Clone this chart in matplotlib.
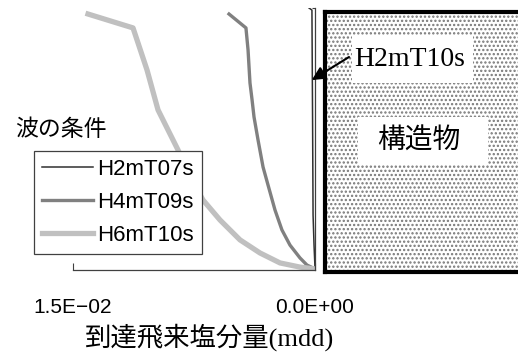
import matplotlib.pyplot as plt
from matplotlib.patches import Rectangle
from matplotlib.ticker import FixedLocator, FuncFormatter

plt.rcParams["font.family"] = ["Liberation Sans", "Noto Sans CJK JP"]
plt.rcParams["hatch.linewidth"] = 1.1

# Airborne salt reaching each height, one series per wave condition
cond_labels = ["H2mT07s", "H4mT09s", "H6mT10s"]

h2_salt = [0.00037, 0.00019, 0.00015, 0.00012, 0.00006, 0.0]
h2_height = [100.0, 99.2, 57.0, 21.0, 9.5, 0.8]

h4_salt = [0.00533, 0.00428, 0.00415, 0.00403, 0.00390, 0.00378, 0.00353,
           0.00322, 0.00291, 0.00248, 0.00205, 0.00155, 0.00093, 0.00050, 0.0]
h4_height = [97.7, 92.4, 84.0, 71.4, 64.9, 58.4, 49.6,
             39.3, 32.4, 22.9, 15.3, 9.5, 4.6, 1.9, 0.4]

h6_salt = [0.01407, 0.01128, 0.01041, 0.00973, 0.00849, 0.00775, 0.00694,
           0.00589, 0.00465, 0.00341, 0.00217, 0.00093, 0.0]
h6_height = [97.7, 92.4, 76.3, 61.1, 45.8, 35.5, 26.7,
             19.1, 11.5, 6.5, 2.7, 1.1, 0.4]

x_ticks = [0.015, 0.0]

line_styles = [
    dict(color="#303030", lw=1.1),
    dict(color="#808080", lw=2.4),
    dict(color="#c0c0c0", lw=3.8),
]

W, H = 518, 358


def fig_box(x0, y0, x1, y1):
    """Pixel box (origin top-left) to a figure-fraction rect."""
    return [x0 / W, 1 - y1 / H, (x1 - x0) / W, (y1 - y0) / H]


fig = plt.figure(figsize=(W / 100, H / 100), dpi=100)
ax = fig.add_axes(fig_box(73, 8, 315, 270))

series = [(h2_salt, h2_height), (h4_salt, h4_height), (h6_salt, h6_height)]
for (xs, ys), label, style in zip(series, cond_labels, line_styles):
    ax.plot(xs, ys, label=label, solid_joinstyle="round", **style)

ax.set_xlim(0.015, 0.0)
ax.set_ylim(0, 100)
ax.xaxis.set_major_locator(FixedLocator(x_ticks))
ax.xaxis.set_major_formatter(
    FuncFormatter(lambda v, _: f"{v:.1E}".replace("-", "\u2212"))
)
ax.tick_params(axis="x", direction="in", length=5, width=0.8, color="#404040",
               pad=20.5, labelsize=15)
ax.yaxis.tick_right()
ax.yaxis.set_major_locator(FixedLocator([100]))
ax.tick_params(axis="y", direction="in", length=2.5, width=0.8,
               color="#404040", labelright=False)
for side in ("left", "top"):
    ax.spines[side].set_visible(False)
for side in ("bottom", "right"):
    ax.spines[side].set_color("#404040")
    ax.spines[side].set_linewidth(0.9)

ax.set_xlabel("到達飛来塩分量(mdd)", family=["Liberation Serif", "Noto Sans CJK JP"],
              fontsize=19, va="center")
ax.xaxis.set_label_coords((210 - 73) / 242, (270 - 337) / 262)

leg = ax.legend(loc="upper left", bbox_to_anchor=(34 / W, 1 - 151 / H),
                bbox_transform=fig.transFigure, borderaxespad=0,
                fontsize=16, handlelength=2.3, handletextpad=0.2,
                labelspacing=0.55, borderpad=0.35, fancybox=False,
                framealpha=1, edgecolor="#404040")
leg.get_frame().set_linewidth(0.9)

fig.text(15 / W, 1 - 130 / H, "波の条件", family="Noto Sans CJK JP",
         fontsize=16.5, va="center", ha="left")

# Structure block to the right of the measuring line
ax2 = fig.add_axes(fig_box(325, 12, 545, 272))
ax2.set_xlim(0, 1)
ax2.set_ylim(0, 1)
ax2.set_xticks([])
ax2.set_yticks([])
for sp in ax2.spines.values():
    sp.set_linewidth(3)
    sp.set_color("black")
ax2.add_patch(Rectangle((0, 0), 1, 1, facecolor="white", edgecolor="#777777",
                        hatch="....", lw=0))
ax2.add_patch(Rectangle((0.123, 0.727), 0.55, 0.185, facecolor="white", lw=0))
ax2.add_patch(Rectangle((0.150, 0.412), 0.591, 0.184, facecolor="white", lw=0))
ax2.text(0.386, 0.819, "H2mT10s", family="Liberation Serif", fontsize=20,
         ha="center", va="center")
ax2.text(0.425, 0.504, "構造物", family="Noto Sans CJK JP", fontsize=20,
         ha="center", va="center")
ax2.annotate("", xy=(0.0002, 72.5), xycoords=ax.transData,
             xytext=(349, H - 57), textcoords="figure pixels",
             arrowprops=dict(arrowstyle="-|>", color="black", lw=1.5,
                             mutation_scale=20, shrinkA=0, shrinkB=0),
             annotation_clip=False, zorder=10)

fig.savefig("out.png", dpi=100)
